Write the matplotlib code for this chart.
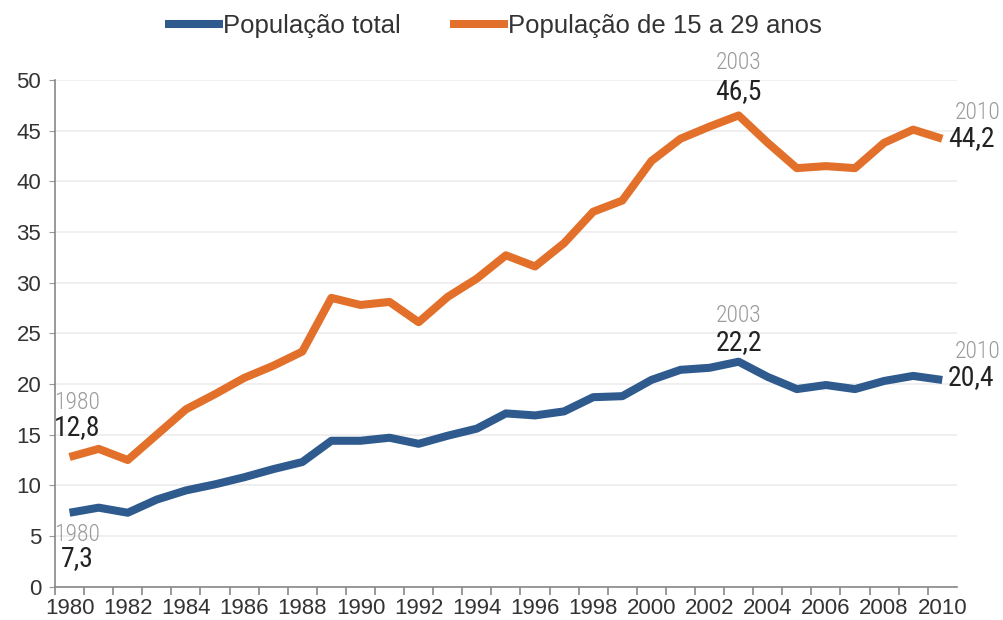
import matplotlib.pyplot as plt
from matplotlib.ticker import MultipleLocator

plt.rcParams['font.family'] = ['Liberation Sans', 'DejaVu Sans']
narrow = ['Roboto Condensed', 'Liberation Sans', 'DejaVu Sans']

# Data
years = list(range(1980, 2011))
pop_total = [7.3, 7.8, 7.3, 8.6, 9.5, 10.1, 10.8, 11.6, 12.3, 14.4,
             14.4, 14.7, 14.1, 14.9, 15.6, 17.1, 16.9, 17.3, 18.7, 18.8,
             20.4, 21.4, 21.6, 22.2, 20.7, 19.5, 19.9, 19.5, 20.3, 20.8,
             20.4]
pop_15_29 = [12.8, 13.6, 12.5, 15.0, 17.5, 19.0, 20.6, 21.8, 23.2, 28.5,
             27.8, 28.1, 26.1, 28.6, 30.4, 32.7, 31.6, 33.9, 37.0, 38.1,
             42.0, 44.2, 45.4, 46.5, 43.8, 41.3, 41.5, 41.3, 43.8, 45.1,
             44.2]
labels = ['População total', 'População de 15 a 29 anos']
blue = '#2e5a8e'
orange = '#e3702a'

fig = plt.figure(figsize=(10.04, 6.2), dpi=100)
ax = fig.add_axes([0.0548, 0.0537, 0.8982, 0.8173])

ax.plot(years, pop_total, color=blue, lw=5.8, solid_capstyle='butt',
        solid_joinstyle='round', label=labels[0])
ax.plot(years, pop_15_29, color=orange, lw=5.8, solid_capstyle='butt',
        solid_joinstyle='round', label=labels[1])

ax.set_xlim(1979.5, 2010.5)
ax.set_ylim(0, 50)
ax.yaxis.set_major_locator(MultipleLocator(5))
ax.set_xticks(years[::2])
ax.set_xticks([y + 0.5 for y in years[:-1]] + [1979.5], minor=True)
ax.tick_params(axis='x', which='major', length=0, pad=8,
               labelsize=16, labelcolor='#333333')
ax.tick_params(axis='x', which='minor', length=6, direction='out',
               color='#888888', width=1.2)
ax.tick_params(axis='y', length=4, color='#999999', pad=6,
               labelsize=16, labelcolor='#333333')

for s in ['top', 'right']:
    ax.spines[s].set_visible(False)
for s in ['left', 'bottom']:
    ax.spines[s].set_color('#888888')
    ax.spines[s].set_linewidth(1.2)

ax.grid(axis='y', color='#ececec', lw=1.2)
ax.set_axisbelow(True)

# Annotations: year (grey, light) and value (dark)
def note(x, y_year, y_val, year, val, ha='center', xoff=0, yr_xoff=None):
    if yr_xoff is None:
        yr_xoff = xoff
    ax.annotate(str(year), (x, y_year), xytext=(yr_xoff, 0),
                textcoords='offset points', ha=ha, va='center',
                fontsize=17, color='#9a9a9a', family=narrow,
                fontweight='light', annotation_clip=False)
    ax.annotate(val, (x, y_val), xytext=(xoff, 0),
                textcoords='offset points', ha=ha, va='center',
                fontsize=20, color='#222222', family=narrow,
                annotation_clip=False)

i80, i03, i10 = 0, years.index(2003), years.index(2010)
note(years[i80], pop_15_29[i80] + 5.4, pop_15_29[i80] + 2.9, 1980, '12,8',
     ha='left', xoff=-11)
note(years[i80], pop_total[i80] - 2.1, pop_total[i80] - 4.5, 1980, '7,3',
     ha='left', xoff=-6, yr_xoff=-11)
note(years[i03], pop_15_29[i03] + 5.2, pop_15_29[i03] + 2.4, 2003, '46,5')
note(years[i03], pop_total[i03] + 4.6, pop_total[i03] + 1.9, 2003, '22,2')
note(years[i10], pop_15_29[i10] + 2.6, pop_15_29[i10] + 0.0, 2010, '44,2',
     ha='left', xoff=4, yr_xoff=9)
note(years[i10], pop_total[i10] + 2.8, pop_total[i10] + 0.2, 2010, '20,4',
     ha='left', xoff=4, yr_xoff=9)

leg = fig.legend(loc='center', bbox_to_anchor=(0.4915, 0.958), ncol=2,
                 frameon=False, handlelength=2.25, handletextpad=0.02,
                 columnspacing=1.9, prop={'size': 18.5})
for t in leg.get_texts():
    t.set_color('#333333')

fig.savefig('out.png', dpi=100)
